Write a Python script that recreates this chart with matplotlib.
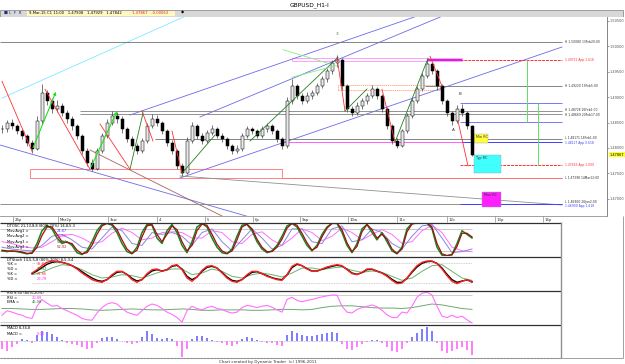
import matplotlib
matplotlib.use("Agg")
import matplotlib.pyplot as plt
from matplotlib.patches import Rectangle
from matplotlib.lines import Line2D

W, H = 625, 364

# ---- hourly GBPUSD bars ----
closes = [1.4837, 1.4849, 1.4843, 1.4833, 1.4824, 1.4810, 1.4798, 1.4853, 1.4908, 1.4892,
          1.4876, 1.4882, 1.4869, 1.4857, 1.4843, 1.4824, 1.4794, 1.4771, 1.4759, 1.4794,
          1.4824, 1.4849, 1.4863, 1.4857, 1.4837, 1.4818, 1.4804, 1.4794, 1.4814, 1.4843,
          1.4857, 1.4849, 1.4833, 1.4810, 1.4794, 1.4765, 1.4751, 1.4814, 1.4843, 1.4824,
          1.4814, 1.4829, 1.4837, 1.4824, 1.4818, 1.4804, 1.4794, 1.4798, 1.4824, 1.4837,
          1.4833, 1.4824, 1.4837, 1.4843, 1.4833, 1.4818, 1.4804, 1.4892, 1.4921, 1.4902,
          1.4892, 1.4902, 1.4908, 1.4921, 1.4935, 1.4951, 1.4967, 1.4974, 1.4921, 1.4876,
          1.4869, 1.4882, 1.4892, 1.4902, 1.4916, 1.4902, 1.4876, 1.4843, 1.4814, 1.4804,
          1.4833, 1.4863, 1.4892, 1.4916, 1.4941, 1.4965, 1.4951, 1.4921, 1.4892, 1.4869,
          1.4853, 1.4876, 1.4869, 1.4843, 1.47867]
highs = [1.4845, 1.4855, 1.4856, 1.4848, 1.4838, 1.4828, 1.4815, 1.4862, 1.4925, 1.4915,
         1.4898, 1.4895, 1.4888, 1.4874, 1.4862, 1.4848, 1.4828, 1.4799, 1.4778, 1.4800,
         1.4830, 1.4856, 1.4872, 1.4870, 1.4862, 1.4842, 1.4823, 1.4809, 1.4820, 1.4850,
         1.4866, 1.4864, 1.4853, 1.4837, 1.4815, 1.4798, 1.4770, 1.4822, 1.4852, 1.4848,
         1.4830, 1.4836, 1.4845, 1.4842, 1.4830, 1.4822, 1.4808, 1.4805, 1.4830, 1.4844,
         1.4842, 1.4838, 1.4843, 1.4850, 1.4848, 1.4837, 1.4822, 1.4900, 1.4935, 1.4926,
         1.4908, 1.4910, 1.4915, 1.4928, 1.4942, 1.4958, 1.4974, 1.4982, 1.4978, 1.4925,
         1.4882, 1.4890, 1.4898, 1.4908, 1.4924, 1.4920, 1.4906, 1.4880, 1.4848, 1.4820,
         1.4838, 1.4869, 1.4898, 1.4922, 1.4948, 1.4976, 1.4970, 1.4955, 1.4926, 1.4897,
         1.4873, 1.4884, 1.4886, 1.4873, 1.4846]
lows = [1.4830, 1.4832, 1.4838, 1.4828, 1.4818, 1.4804, 1.4790, 1.4795, 1.4848, 1.4885,
        1.4868, 1.4870, 1.4862, 1.4850, 1.4836, 1.4818, 1.4788, 1.4764, 1.4754, 1.4756,
        1.4790, 1.4820, 1.4845, 1.4850, 1.4830, 1.4812, 1.4798, 1.4788, 1.4790, 1.4810,
        1.4840, 1.4843, 1.4827, 1.4804, 1.4788, 1.4758, 1.4745, 1.4748, 1.4810, 1.4818,
        1.4808, 1.4810, 1.4825, 1.4819, 1.4812, 1.4798, 1.4788, 1.4789, 1.4794, 1.4820,
        1.4828, 1.4819, 1.4820, 1.4832, 1.4828, 1.4812, 1.4797, 1.4800, 1.4886, 1.4896,
        1.4886, 1.4888, 1.4897, 1.4904, 1.4917, 1.4930, 1.4946, 1.4960, 1.4915, 1.4870,
        1.4862, 1.4865, 1.4877, 1.4887, 1.4898, 1.4896, 1.4870, 1.4837, 1.4808, 1.4799,
        1.4801, 1.4829, 1.4859, 1.4888, 1.4912, 1.4937, 1.4945, 1.4915, 1.4886, 1.4863,
        1.4846, 1.4850, 1.4863, 1.4838, 1.4784]

price_ticks = [1.470, 1.475, 1.480, 1.485, 1.490, 1.495, 1.500, 1.505]
date_ticks = [2.2, 11.2, 21.2, 31.0, 40.6, 50.2, 59.6, 69.2, 79.0, 89.0, 98.6, 108.2]
date_labels = ["26p", "Mar2p", "3sw", "4", "5", "6p", "9ap", "10w", "11c", "12c", "13p", "16p"]

# horizontal swing levels
level_prices = [1.50080, 1.49219, 1.48727, 1.48668, 1.48176, 1.47407, 1.46896]
level_labels = ["H 1.50080 13Feb20:00", "H 1.49220 19Feb5:00", "H 1.48728 16Feb1:00",
                "H 1.48669 20Feb17:00", "L 1.48171 18Feb1:00", "L 1.47398 14Mar12:00",
                "L 1.46900 26Jan2:00"]
level_from = [-0.4, 84.6, 15.6, 15.6, 30.6, 56.0, -0.4]
level_colors = ["#707070", "#707070", "#808080", "#808080", "#707070", "#ff7070", "#808080"]
level_nudge = [0, 0, 0.00012, -0.00012, 0.00010, 0, 0.00035]

# price projections
proj_prices = [1.49731, 1.48117, 1.47663, 1.46900]
proj_labels = ["1.49731 App 1.618", "1.48117 App 0.618", "1.47663 App 1.000", "1.46900 App 1.618"]
proj_colors = ["#ff3030", "#4040ff", "#ff3030", "#4040ff"]
proj_nudge = [0, -0.00020, 0, -0.00040]
blue_levels = [1.48884, 1.48510]

# trendlines (bar, price)
trend_lines = [((0.0, 1.48981), (37.2, 1.50617)),
               ((25.6, 1.48648), (83.6, 1.50617)),
               ((39.6, 1.48609), (88.6, 1.50617)),
               ((35.6, 1.47408), (112.0, 1.49987)),
               ((-0.4, 1.48057), (50.2, 1.46620)),
               ((17.6, 1.47959), (44.0, 1.46659)),
               ((35.6, 1.47447), (112.0, 1.46876))]
trend_colors = ["#80e8ff", "#6a6ae8", "#6a6ae8", "#6a6ae8", "#6a6ae8", "#b06060", "#909090"]

red_swings = [((0.0, 1.49313), (6.0, 1.47934)), ((8.6, 1.49155), (17.6, 1.47580)),
              ((19.6, 1.48470), (25.6, 1.47580)), ((28.0, 1.48726), (30.2, 1.48135)),
              ((34.0, 1.48332), (36.0, 1.47501)), ((67.0, 1.49785), (68.6, 1.48726)),
              ((76.0, 1.49155), (78.6, 1.48115)), ((85.6, 1.49805), (88.0, 1.49215)),
              ((91.2, 1.48530), (93.2, 1.47643))]
green_swings = [((25.6, 1.47580), (28.2, 1.48687)), ((36.0, 1.47501), (42.6, 1.48253)),
                ((49.6, 1.48135), (67.2, 1.49785)), ((68.6, 1.48726), (73.0, 1.49160)),
                ((78.6, 1.48115), (85.2, 1.49765))]
green_arrows = [((6.0, 1.47953), (11.0, 1.49155)), ((17.6, 1.47580), (23.2, 1.48766))]
tri_lines = [((56.2, 1.49934), (65.2, 1.49667)), ((58.0, 1.49392), (67.0, 1.49627))]

# reversal zones (bar0, bar1, price_lo, price_hi)
zone_names = ["Min RC", "Typ RC", "Max RC"]
zone_bars = [(94.4, 97.2), (94.4, 99.8), (96.0, 99.8)]
zone_prices = [(1.48105, 1.48282), (1.47505, 1.47860), (1.46837, 1.47131)]
zone_colors = ["#ffff40", "#40ffff", "#ff20ff"]

# ---- indicators ----
dtosc_fast = [20, 18, 20, 18, 15, 12, 15, 40, 75, 90, 80, 55, 40, 45, 35, 15, 10, 20, 45, 75,
              92, 95, 90, 70, 40, 18, 12, 30, 70, 92, 90, 55, 40, 75, 92, 70, 35, 15, 45, 85,
              95, 85, 55, 30, 15, 12, 25, 60, 90, 92, 75, 45, 25, 15, 20, 35, 60, 88, 95, 85,
              60, 35, 20, 35, 65, 85, 95, 95, 70, 35, 15, 40, 80, 92, 70, 50, 70, 45, 20, 12,
              30, 80, 95, 96, 96, 96, 80, 30, 8, 7, 10, 40, 75, 65, 55]
dtosc_slow = [22, 20, 19, 19, 17, 13, 13, 30, 62, 85, 85, 65, 45, 43, 40, 22, 12, 15, 35, 65,
              88, 95, 93, 78, 50, 25, 13, 22, 58, 88, 92, 65, 45, 65, 88, 78, 45, 20, 35, 75,
              93, 90, 65, 38, 20, 13, 20, 50, 85, 93, 80, 52, 30, 18, 18, 30, 52, 82, 95, 90,
              68, 42, 22, 30, 58, 82, 95, 96, 78, 42, 18, 32, 72, 92, 78, 55, 65, 52, 25, 13,
              25, 72, 93, 96, 96, 96, 85, 40, 12, 7, 9, 32, 68, 68, 58]
mov_avg1 = [30, 25, 22, 20, 35, 60, 65, 50, 30, 25, 55, 85, 75, 40, 35, 70, 65, 70, 60, 35,
            70, 80, 45, 20, 50, 80, 55, 25, 35, 80, 80, 45, 40, 80, 88, 45, 50, 80, 70, 40,
            25, 60, 88, 92, 55, 15, 18, 25]
mov_avg2 = [45, 40, 32, 28, 30, 45, 62, 65, 55, 40, 45, 68, 82, 70, 50, 55, 70, 72, 70, 55,
            55, 75, 70, 45, 40, 65, 72, 50, 35, 55, 80, 70, 48, 60, 82, 70, 50, 65, 78, 65,
            40, 45, 75, 90, 70, 30, 20, 18]

stoch_k = [50, 60, 72, 82, 86, 85, 82, 78, 72, 62, 50, 40, 30, 25, 22, 30, 45, 55, 55, 45,
           30, 22, 30, 48, 60, 62, 55, 60, 72, 75, 60, 35, 25, 38, 58, 70, 72, 65, 50, 35,
           25, 22, 30, 45, 55, 55, 48, 40, 35, 30, 28, 45, 70, 78, 72, 62, 55, 55, 62, 68,
           72, 75, 72, 60, 48, 45, 52, 62, 62, 55, 50, 40, 28, 18, 20, 35, 55, 72, 82, 86,
           86, 78, 62, 42, 25, 18, 25, 30, 22]
stoch_k2 = [48, 56, 66, 76, 82, 84, 82, 78, 72, 64, 54, 44, 35, 28, 25, 30, 42, 52, 54, 46,
            34, 26, 30, 45, 56, 60, 56, 60, 70, 73, 62, 40, 30, 38, 55, 67, 70, 65, 52, 38,
            28, 25, 30, 42, 52, 54, 48, 42, 36, 32, 30, 44, 66, 76, 72, 63, 56, 56, 61, 66,
            70, 73, 71, 61, 50, 46, 51, 60, 61, 56, 50, 42, 31, 22, 22, 34, 52, 68, 79, 84,
            85, 79, 65, 46, 30, 22, 26, 29, 24]
stoch_d = [45, 52, 65, 75, 72, 60, 45, 35, 38, 45, 42, 35, 45, 55, 62, 62, 45, 50, 62, 55,
           40, 35, 45, 50, 45, 38, 50, 65, 65, 60, 65, 68, 58, 52, 56, 52, 40, 28, 35, 55,
           72, 75, 55, 35, 28]

rsi = [35, 45, 42, 38, 35, 30, 28, 55, 70, 62, 55, 57, 50, 45, 40, 35, 28, 25, 24, 40,
       52, 60, 63, 60, 50, 42, 38, 35, 45, 55, 60, 57, 50, 42, 37, 30, 20, 45, 55, 50,
       47, 52, 55, 50, 48, 43, 40, 42, 52, 57, 55, 52, 55, 57, 53, 47, 42, 70, 75, 68,
       65, 68, 70, 73, 76, 78, 80, 80, 55, 42, 40, 48, 52, 55, 58, 54, 46, 36, 30, 30,
       42, 40, 55, 75, 84, 86, 80, 55, 33, 30, 35, 30, 33, 25, 18]
rsi_ema = [50, 50, 49, 48, 48, 49, 50, 50, 49, 47, 46, 47, 48, 49, 48, 47, 47, 48, 49, 48,
           46, 46, 47, 47, 47, 46, 46, 47, 48, 48, 47, 48, 52, 55, 56, 56, 54, 52, 51, 51,
           50, 52, 56, 60, 58, 54, 50, 48]

macd_hist = [-8, -10, -6, -3, 2, 1, -2, 6, 10, 9, 7, 4, 1, -2, -3, -4, -6, -8, -7, -2,
             3, 4, 4, 2, 0, -2, -3, -2, 4, 10, 7, 3, 2, 3, 2, -5, -16, -8, 2, 5,
             5, 3, 1, -1, -2, -4, -5, -3, 2, 4, 3, 1, -1, -2, -2, -4, -5, 6, 10, 8,
             6, 5, 5, 6, 7, 8, 9, 8, -3, -8, -9, -6, -3, -1, 1, 1, -2, -6, -10, -11,
             -8, -2, 4, 8, 12, 14, 10, -2, -10, -12, -10, -8, -6, -9, -14]


def box(x0, y0, x1, y1):
    return [x0 / W, 1 - y1 / H, (x1 - x0) / W, (y1 - y0) / H]


def bare(ax):
    ax.set_xticks([])
    ax.set_yticks([])
    for s in ax.spines.values():
        s.set_visible(False)


fig = plt.figure(figsize=(6.25, 3.64), dpi=100)
fig.patch.set_facecolor("white")

# header
hdr = fig.add_axes(box(0, 0, 625, 17))
bare(hdr)
hdr.set_xlim(0, W)
hdr.set_ylim(17, 0)
hdr.add_patch(Rectangle((0, 9.5), 623, 7, facecolor="#d8d8d8", edgecolor="#909090", lw=0.6))
hdr.add_patch(Rectangle((27, 10.5), 148, 5, facecolor="#fff8c0", edgecolor="none"))
hdr.text(310, 5, "GBPUSD_H1-I", fontsize=4.2, ha="center", va="center")
hdr.text(4, 13, "■ L  F  R", fontsize=3.0, va="center", color="#203080")
hdr.text(29, 13, "9-Mar-15 C1 11:00   1.47908   1.47929   1.47842", fontsize=2.7, va="center")
hdr.text(132, 13, "1.47867   -0.00063", fontsize=2.7, va="center", color="#e02020")
hdr.text(181, 13, "◆", fontsize=3.0, va="center")

# price panel
ax = fig.add_axes(box(0, 17, 607, 216))
ax.set_xlim(-0.4, 121.0)
ax.set_ylim(1.46659, 1.50578)
for s in ["top", "left"]:
    ax.spines[s].set_visible(False)
ax.spines["right"].set_color("#707070")
ax.spines["bottom"].set_color("#909090")
ax.spines["right"].set_linewidth(0.6)
ax.spines["bottom"].set_linewidth(0.6)
ax.yaxis.tick_right()
ax.set_yticks(price_ticks)
ax.set_yticklabels([f"{p:.5f}" for p in price_ticks], fontsize=2.5, color="#303030")
ax.tick_params(axis="y", length=1.2, width=0.4, pad=0.6, colors="#505050")
ax.set_xticks(date_ticks)
ax.set_xticklabels([])
ax.tick_params(axis="x", length=4, width=0.4, colors="#707070", direction="out")
for t, lab in zip(date_ticks, date_labels):
    ax.text(t + 0.4, -0.012, lab, transform=ax.get_xaxis_transform(), fontsize=2.8,
            ha="left", va="top", color="#303030", clip_on=False)

# zones and boxes
ax.add_patch(Rectangle((5.6, 1.47407), 50.4, 0.00177, facecolor="none", edgecolor="#ff7070", lw=0.6))
ax.add_patch(Rectangle((58.0, 1.49711), 34.0, 0.00059, facecolor="none", edgecolor="#ff90ff", lw=0.6))
ax.add_patch(Rectangle((67.2, 1.49140), 20.4, 0.00098, facecolor="none", edgecolor="#ff9060",
                       lw=0.5, ls=(0, (2, 1))))
for name, (b0, b1), (p0, p1), col in zip(zone_names, zone_bars, zone_prices, zone_colors):
    ax.add_patch(Rectangle((b0, p0), b1 - b0, p1 - p0, facecolor=col, edgecolor="#a0a0a0", lw=0.3, zorder=3))
    ax.text(b0 + 0.3, p1 - 0.0002, name, fontsize=2.4, va="top", ha="left", color="#303030", zorder=4)

# trendlines
for ((b0, p0), (b1, p1)), col in zip(trend_lines, trend_colors):
    ax.add_line(Line2D([b0, b1], [p0, p1], color=col, lw=0.6, zorder=1))

# horizontal levels
for p, lab, b0, col, dn in zip(level_prices, level_labels, level_from, level_colors, level_nudge):
    ax.hlines(p, b0, 112.0, color=col, lw=0.6, zorder=1)
    ax.text(112.6, p + dn, lab, fontsize=2.2, va="center", ha="left", color="#303030")
for p, lab, col, dn in zip(proj_prices, proj_labels, proj_colors, proj_nudge):
    ax.hlines(p, 91.6, 112.0, color=col, lw=0.7, ls=(0, (3, 1)) if col == "#ff3030" else "-", zorder=1)
    ax.text(112.6, p + dn, lab, fontsize=2.2, va="center", ha="left", color=col)
ax.hlines(proj_prices[0], 85.0, 92.0, color="#d020d0", lw=1.4, zorder=1)
ax.hlines(proj_prices[1], 56.0, 92.0, color="#ff60ff", lw=0.7, zorder=1)
ax.hlines(level_prices[5], 56.0, 112.0, color="#ff7070", lw=0.6, zorder=1)
for p in blue_levels:
    ax.hlines(p, 91.6, 112.0, color="#6060ff", lw=0.6, zorder=1)

# time projection verticals
ax.vlines(105.0, 1.48510, 1.49731, color="#60e060", lw=0.7)
ax.vlines(107.2, 1.47663, 1.48884, color="#60e060", lw=0.7)

# candles
opens = [closes[0]] + closes[:-1]
for i, (o, h, l, c) in enumerate(zip(opens, highs, lows, closes)):
    ax.vlines(i, l, h, color="#404040", lw=0.5, zorder=4)
    up = c >= o
    ax.add_patch(Rectangle((i - 0.3, min(o, c)), 0.6, max(abs(c - o), 0.00006),
                           facecolor="#e8e8e8" if up else "black", edgecolor="black", lw=0.35, zorder=5))

# swing lines
for (a, b) in red_swings:
    ax.add_line(Line2D([a[0], b[0]], [a[1], b[1]], color="#ff3030", lw=0.6, zorder=6))
for (a, b) in green_swings:
    ax.add_line(Line2D([a[0], b[0]], [a[1], b[1]], color="#208020", lw=0.6, zorder=6))
for (a, b) in tri_lines:
    ax.add_line(Line2D([a[0], b[0]], [a[1], b[1]], color="#80f080", lw=0.6, zorder=6))
for (a, b) in green_arrows:
    ax.annotate("", xy=b, xytext=a, arrowprops=dict(arrowstyle="-|>", color="#20e020", lw=0.8,
                                                    mutation_scale=4), zorder=6)
ax.text(67.0, 1.5022, "3", fontsize=3.2, color="#209020", ha="center")
ax.text(91.6, 1.4905, "B", fontsize=3.0, color="#303030", ha="center")
ax.text(90.2, 1.4833, "A", fontsize=3.0, color="#303030", ha="center")

# current price marker
ax.text(1.004, 1.47867, "1.47867", transform=ax.get_yaxis_transform(), fontsize=2.5,
        va="center", ha="left", bbox=dict(boxstyle="square,pad=0.15", fc="#ffff30", ec="none"))

# ---- lower panels ----
panels = [(223, 256), (257, 290), (291, 324), (325, 357)]
idx = list(range(len(closes)))
even = idx[::2]
axs = []
for (y0, y1) in panels:
    pa = fig.add_axes(box(0, y0, 561, y1))
    pa.set_xlim(-0.4, 111.8)
    pa.set_xticks([])
    pa.set_yticks([])
    for s in pa.spines.values():
        s.set_visible(False)
    axs.append(pa)

# panel separators
sep = fig.add_axes(box(0, 216, 625, 364))
bare(sep)
sep.set_xlim(0, W)
sep.set_ylim(364, 216)
sep.patch.set_alpha(0)
for y in [222.5, 256.5, 290.5, 324.5]:
    sep.hlines(y, 0, 561, color="#303030", lw=0.9)
sep.hlines(357.5, 0, 561, color="#a0a0a0", lw=0.8, ls=(0, (2, 1)))
sep.vlines(561, 222, 358, color="#909090", lw=1.0)
sep.vlines(623, 216, 358, color="#909090", lw=0.6)
sep.hlines(358, 0, 623, color="#909090", lw=0.6)
sep.text(268, 361.5, "Chart created by Dynamic Trader  (c) 1996-2011", fontsize=2.9,
         ha="center", va="center", color="#303030")

a1, a2, a3, a4 = axs
last = len(closes) - 1

a1.set_ylim(6, 96)
a1.hlines([80, 20], -0.4, last, color="#c0c0c0", lw=0.6)
a1.plot(even, mov_avg2, color="#ff70ff", lw=0.7)
a1.plot(even, mov_avg1, color="#8888dd", lw=0.7)
a1.plot(idx, dtosc_fast, color="#208020", lw=1.1)
a1.plot(idx, dtosc_slow, color="#a01010", lw=0.9)
a1.text(1, 94, "DTOSC 21,13,8,8 (80%-20%) 14,8,5,3", fontsize=2.6, va="top")
for k, (lab, val, col) in enumerate([("Mov.Avg1 = ", "24,87", "#4040ff"), ("Mov.Avg2 = ", "17,88", "#ff30ff"),
                                    ("Mov.Avg3 = ", "52,92", "#208020"), ("Mov.Avg2 = ", "52,92", "#c02020")]):
    a1.text(1, 80 - k * 15, lab, fontsize=2.6, va="top")
    a1.text(11, 80 - k * 15, val, fontsize=2.6, va="top", color=col)

a2.set_ylim(-1, 98)
a2.hlines([80, 20], 6, last, color="#c0c0c0", lw=0.6, ls=(0, (1, 1)))
sidx = idx[6:]
a2.plot(even[3:], stoch_d, color="#70b070", lw=0.7)
a2.plot(sidx, stoch_k2, color="black", lw=1.0)
a2.plot(sidx, stoch_k, color="#ff2020", lw=1.0)
a2.text(1, 96, "DTStoch 14,5,5,8 (80%-20%) 8,5,3,4", fontsize=2.6, va="top")
for k, (lab, val, col) in enumerate([("%K = ", "35,84", "#ff3030"), ("%D = ", "29,92", "#208020"),
                                    ("%K = ", "24,86", "#ff3030"), ("%D = ", "29,78", "#ff30ff")]):
    a2.text(1, 82 - k * 15, lab, fontsize=2.6, va="top")
    a2.text(7, 82 - k * 15, val, fontsize=2.6, va="top", color=col)

a3.set_ylim(15.6, 88.9)
a3.hlines([80, 20], -0.4, last, color="#c8c8c8", lw=0.6)
a3.plot(even, rsi_ema, color="#70a870", lw=0.7)
a3.plot(idx, rsi, color="#ff70ff", lw=0.8)
a3.text(1, 88, "RSI 8,50 (80%-20%)", fontsize=2.6, va="top")
a3.text(1, 78, "RSI = ", fontsize=2.6, va="top")
a3.text(6, 78, "20,88", fontsize=2.6, va="top", color="#ff30ff")
a3.text(1, 68, "EMA = ", fontsize=2.6, va="top")
a3.text(6, 68, "46,98", fontsize=2.6, va="top", color="#208020")

a4.set_ylim(-16.3, 15.7)
a4.hlines(0, -0.4, last, color="#b0b0b0", lw=0.6, ls=(0, (1, 1)))
a4.bar(idx, macd_hist, width=0.45, color=["#8080ff" if v >= 0 else "#ff80ff" for v in macd_hist])
a4.text(1, 15, "MACD 8,34,8", fontsize=2.6, va="top")
a4.text(1, 9, "MACD = ", fontsize=2.6, va="top")
a4.text(7, 9, "0,00", fontsize=2.6, va="top", color="#ff30ff")

fig.savefig("out.png", dpi=100)
